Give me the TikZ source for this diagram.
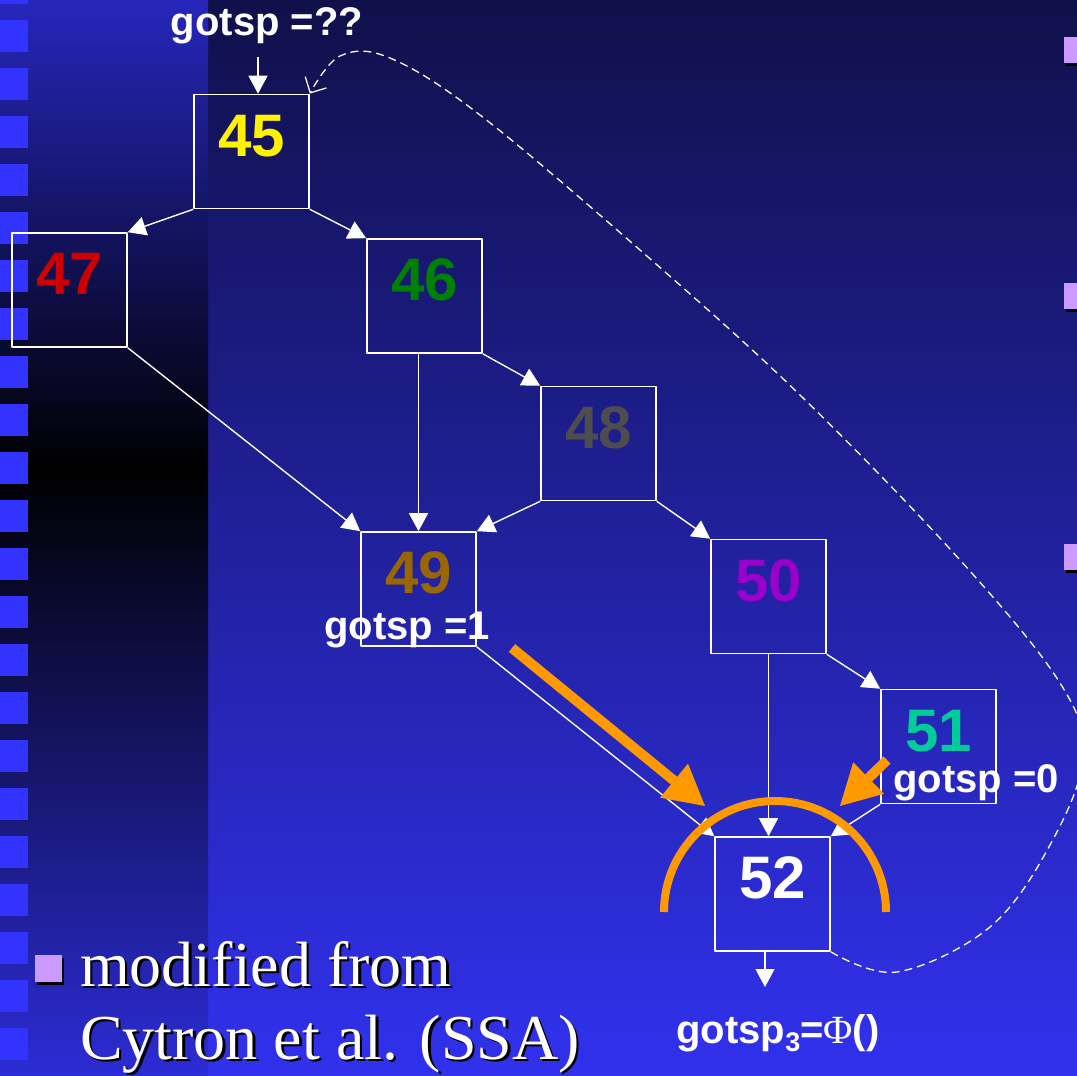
\documentclass[tikz,border=0pt]{standalone}
\usepackage{fontspec}
\setmainfont{Liberation Serif}
\newfontfamily\labelfont{Liberation Sans}
\usetikzlibrary{arrows.meta}

\definecolor{bgtop}{HTML}{10104A}
\definecolor{bgbottom}{HTML}{3131EE}
\definecolor{paneltop}{HTML}{2626BC}
\definecolor{panelbottom}{HTML}{2C2CD6}
\definecolor{stripblue}{HTML}{3333FF}
\definecolor{lilac}{HTML}{CC99FF}
\definecolor{phiorange}{HTML}{FF9900}
\definecolor{c46}{HTML}{008000}
\definecolor{c47}{HTML}{CC0000}
\definecolor{c48}{HTML}{4D4D4D}
\definecolor{c49}{HTML}{996600}
\definecolor{c50}{HTML}{9900CC}
\definecolor{c51}{HTML}{00CC99}

\begin{document}
\begin{tikzpicture}[x=1pt,y=-1pt,line join=round,
  blk/.style={draw=white,line width=1.6pt,minimum width=115pt,minimum height=114pt,inner sep=0pt,
    text height=40pt,text depth=31pt,font=\labelfont\bfseries\fontsize{60}{60}\selectfont},
  edge/.style={draw=white,line width=1.4pt,-{Triangle[length=18pt,width=19pt]}},
  lbl/.style={text=white,inner sep=0pt,anchor=base,font=\labelfont\bfseries\fontsize{40}{40}\selectfont},
  hint/.style={draw=phiorange,line width=10pt,-{Triangle[length=40pt,width=44pt,line width=0pt]}},
  note/.style={inner sep=0pt,anchor=base west,font=\fontsize{64}{64}\selectfont}]
  \useasboundingbox (0,0) rectangle (1077,1076);
  \clip (0,0) rectangle (1077,1076);

  % background and side strip
  \shade[top color=bgtop,bottom color=bgbottom] (208,0) rectangle (1077,1076);
  \shade[top color=paneltop,bottom color=black] (0,0) rectangle (208,470);
  \shade[top color=black,bottom color=panelbottom] (0,470) rectangle (208,1076);
  \foreach \k in {-1,...,21}
    \fill[stripblue] (0,20+48*\k) rectangle (28,52+48*\k);
  \foreach \t in {37,283,544} {
    \fill[black] (1066,\t+3) rectangle (1094,\t+29);
    \fill[lilac] (1064,\t) rectangle (1092,\t+26);
  }

  % blocks
  \node[blk,text=yellow] (n45) at (251.5,151.5) {45};
  \node[blk,text=c47] (n47) at (69.5,290) {47};
  \node[blk,text=c46] (n46) at (424.5,296) {46};
  \node[blk,text=c48] (n48) at (598.5,443.5) {48};
  \node[blk,text=c49] (n49) at (418.5,589) {49};
  \node[blk,text=c50] (n50) at (768.5,596.5) {50};
  \node[blk,text=c51] (n51) at (938.5,746.5) {51};
  \node[blk,text=white] (n52) at (772.5,894) {52};

  \coordinate (in45) at (258,57);
  \coordinate (out52) at (765,987);

  % control flow
  \draw[edge] (in45) -- (in45 |- n45.north);
  \draw[edge] (n45.south west) -- (n47.north east);
  \draw[edge] (n45.south east) -- (n46.north west);
  \draw[edge] (n47.south east) -- (n49.north west);
  \draw[edge] (n49.north |- n46.south) -- (n49.north);
  \draw[edge] (n46.south east) -- (n48.north west);
  \draw[edge] (n48.south west) -- (n49.north east);
  \draw[edge] (n48.south east) -- (n50.north west);
  \draw[edge] (n49.south east) -- (n52.north west);
  \draw[edge] (n50.south) -- (n50.south |- n52.north);
  \draw[edge] (n50.south east) -- (n51.north west);
  \draw[edge] (n51.south west) -- (n52.north east);
  \draw[edge] (out52 |- n52.south) -- (out52);

  % loop back
  \draw[white,line width=1.3pt,dash pattern=on 8pt off 5pt,-{Straight Barb[length=12pt,width=24pt]}]
    plot[smooth,tension=0.6] coordinates {(n52.south east) (897,972) (990,927) (1050,845)
      (1083,757) (1060,683) (960,560) (800,395) (640,250) (480,115) (390,58) (340,56)
      (n45.north east)};

  % values
  \node[lbl] (g45) at (267,35) {gotsp =??};
  \node[lbl] (g49) at (407,639) {gotsp =1};
  \node[lbl] (g51) at (976,792) {gotsp =0};
  \node[lbl] (g52) at (778,1043)
    {gotsp\raisebox{-8pt}{\fontsize{27}{27}\selectfont 3}={\rmfamily\mdseries Φ}()};

  % merge point
  \coordinate (h1a) at (512,648);
  \coordinate (h1b) at (705,806);
  \coordinate (h2a) at (887,760);
  \coordinate (h2b) at (840,806);
  \draw[hint] (h1a) -- (h1b);
  \draw[hint] (h2a) -- (h2b);
  \draw[phiorange,line width=8pt] (886,912) arc[start angle=0,end angle=180,radius=111pt];

  % source note
  \fill[black] (37,958) rectangle (64,985);
  \fill[lilac] (35,955) rectangle (62,982);
  \node[note,text=black] (src1s) at (82.5,988.5) {modified from};
  \node[note,text=white] (src1) at (80,986) {modified from};
  \node[note,text=black] (src2s) at (82.5,1061.5) {Cytron et al. (SSA)};
  \node[note,text=white] (src2) at (80,1059) {Cytron et al. (SSA)};
\end{tikzpicture}
\end{document}
